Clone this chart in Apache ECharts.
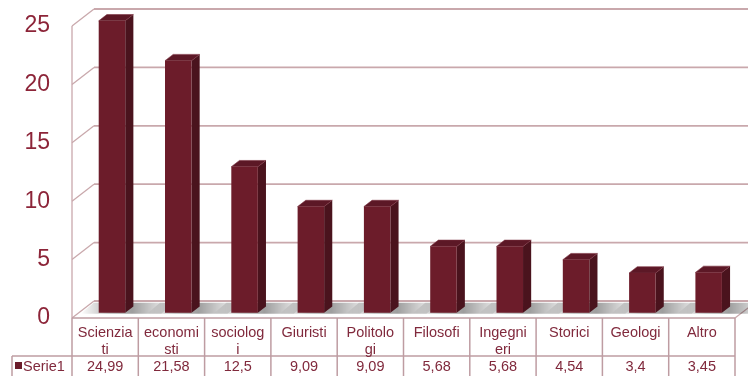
<!DOCTYPE html>
<html><head><meta charset="utf-8">
<script src="https://cdn.jsdelivr.net/npm/echarts@6/dist/echarts.min.js"></script>
<style>html,body{margin:0;padding:0;background:#fff}#c{width:748px;height:376px}</style>
</head><body><div id="c"></div>
<script>
const categoryLabels = ['Scienzia\nti','economi\nsti','sociolog\ni','Giuristi','Politolo\ngi','Filosofi','Ingegni\neri','Storici','Geologi','Altro'];
const seriesName = 'Serie1';
const values = [24.99,21.58,12.5,9.09,9.09,5.68,5.68,4.54,3.4,3.45];
const yTicks = [0,5,10,15,20,25];

const DX = 22, DY = -17;
const F0 = 0.31, F1 = 0.68;
const GRID = '#C9A8AC', TBL = '#BE9CA2';
const TXT = '#80293C', AX = '#8C2438';
const FONT = '14.5px "Liberation Sans", Arial, sans-serif';

const chart = echarts.init(document.getElementById('c'), null, {renderer:'canvas'});

function wallsRender(params, api){
  const bw = api.size([1,0])[0];
  const c0 = api.coord([0,0]);
  const left = c0[0]-bw/2, right = left + bw*categoryLabels.length;
  const y0 = c0[1];
  const ch = [];
  const ln = (x1,y1,x2,y2,col,w)=>ch.push({type:'line',shape:{x1,y1,x2,y2},style:{stroke:col,lineWidth:w||1.3}});
  yTicks.forEach(t=>{
    const y = api.coord([0,t])[1];
    ln(left+DX, y+DY, right+DX+30, y+DY, GRID, 1.8);
    ln(left, y, left+DX, y+DY, GRID, 1.3);
  });
  const ytop = api.coord([0,yTicks[yTicks.length-1]])[1];
  ln(left, ytop, left, y0, GRID, 1.3);
  ln(right, y0, right+DX, y0+DY, GRID, 1.3);
  // table
  const rowY = 356;
  ln(left, y0, right, y0, TBL, 1.5);
  ln(12, rowY, right, rowY, TBL, 1.5);
  for(let i=0;i<=categoryLabels.length;i++){
    ln(left+i*bw, y0, left+i*bw, 378, TBL, 1.5);
  }
  ln(12, rowY, 12, 378, TBL, 1.5);
  ch.push({type:'rect',shape:{x:15,y:362,width:7,height:7},style:{fill:'#6C1C2A'}});
  ch.push({type:'text',style:{text:seriesName,x:23,y:366.5,fill:TXT,font:FONT,align:'left',verticalAlign:'middle'}});
  return {type:'group',children:ch};
}

function barRender(params, api){
  const i = api.value(0), v = api.value(1);
  const bw = api.size([1,0])[0];
  const top = api.coord([i,v]), base = api.coord([i,0]);
  const w = bw*0.4;
  const x0 = top[0]-w/2 + DX*F0, x1 = x0+w;
  const yt = top[1] + DY*F0, yb = base[1] + DY*F0;
  const ddx = DX*(F1-F0), ddy = DY*(F1-F0);
  const ch = [];
  // floor shadow
  ch.push({type:'polygon',shape:{points:[[x0-18,yb+1],[x1+36,yb+1],[x1+36+ddx*1.6,yb+ddy*1.6],[x0-18+ddx*1.6,yb+ddy*1.6]]},
    style:{fill:new echarts.graphic.LinearGradient(0,0,1,0,[
      {offset:0,color:'rgba(0,0,0,0)'},{offset:0.3,color:'rgba(0,0,0,0.28)'},
      {offset:0.55,color:'rgba(0,0,0,0.38)'},{offset:1,color:'rgba(0,0,0,0)'}])}});
  ch.push({type:'polygon',shape:{points:[[x1,yt],[x1+ddx,yt+ddy],[x1+ddx,yb+ddy],[x1,yb]]},style:{fill:'#4A131D'}});
  ch.push({type:'polygon',shape:{points:[[x0,yt],[x1,yt],[x1+ddx,yt+ddy],[x0+ddx,yt+ddy]]},style:{fill:'#5C1826',stroke:'#7A3040',lineWidth:0.6}});
  ch.push({type:'rect',shape:{x:x0,y:yt,width:w,height:yb-yt},style:{fill:'#6C1C2A'}});
  // table cells
  const cx = base[0];
  ch.push({type:'text',style:{text:categoryLabels[i],x:cx,y:324,fill:TXT,font:FONT,lineHeight:17,align:'center',verticalAlign:'top'}});
  ch.push({type:'text',style:{text:String(v).replace('.',','),x:cx,y:366.5,fill:TXT,font:FONT,align:'center',verticalAlign:'middle'}});
  return {type:'group',children:ch};
}

chart.setOption({
  animation:false,
  grid:{left:72,right:13,top:26,bottom:58},
  xAxis:{type:'category',data:categoryLabels,axisLine:{show:false},axisTick:{show:false},axisLabel:{show:false},splitLine:{show:false}},
  yAxis:{type:'value',min:0,max:25,interval:5,axisLine:{show:false},axisTick:{show:false},splitLine:{show:false},
    axisLabel:{color:AX,fontSize:23,fontFamily:'"Liberation Sans", Arial, sans-serif',margin:22}},
  series:[
    {type:'custom',z:1,clip:false,data:[[0,0]],renderItem:wallsRender,silent:true},
    {type:'custom',z:2,clip:false,name:seriesName,data:values.map((v,i)=>[i,v]),renderItem:barRender}
  ]
});
</script></body></html>
